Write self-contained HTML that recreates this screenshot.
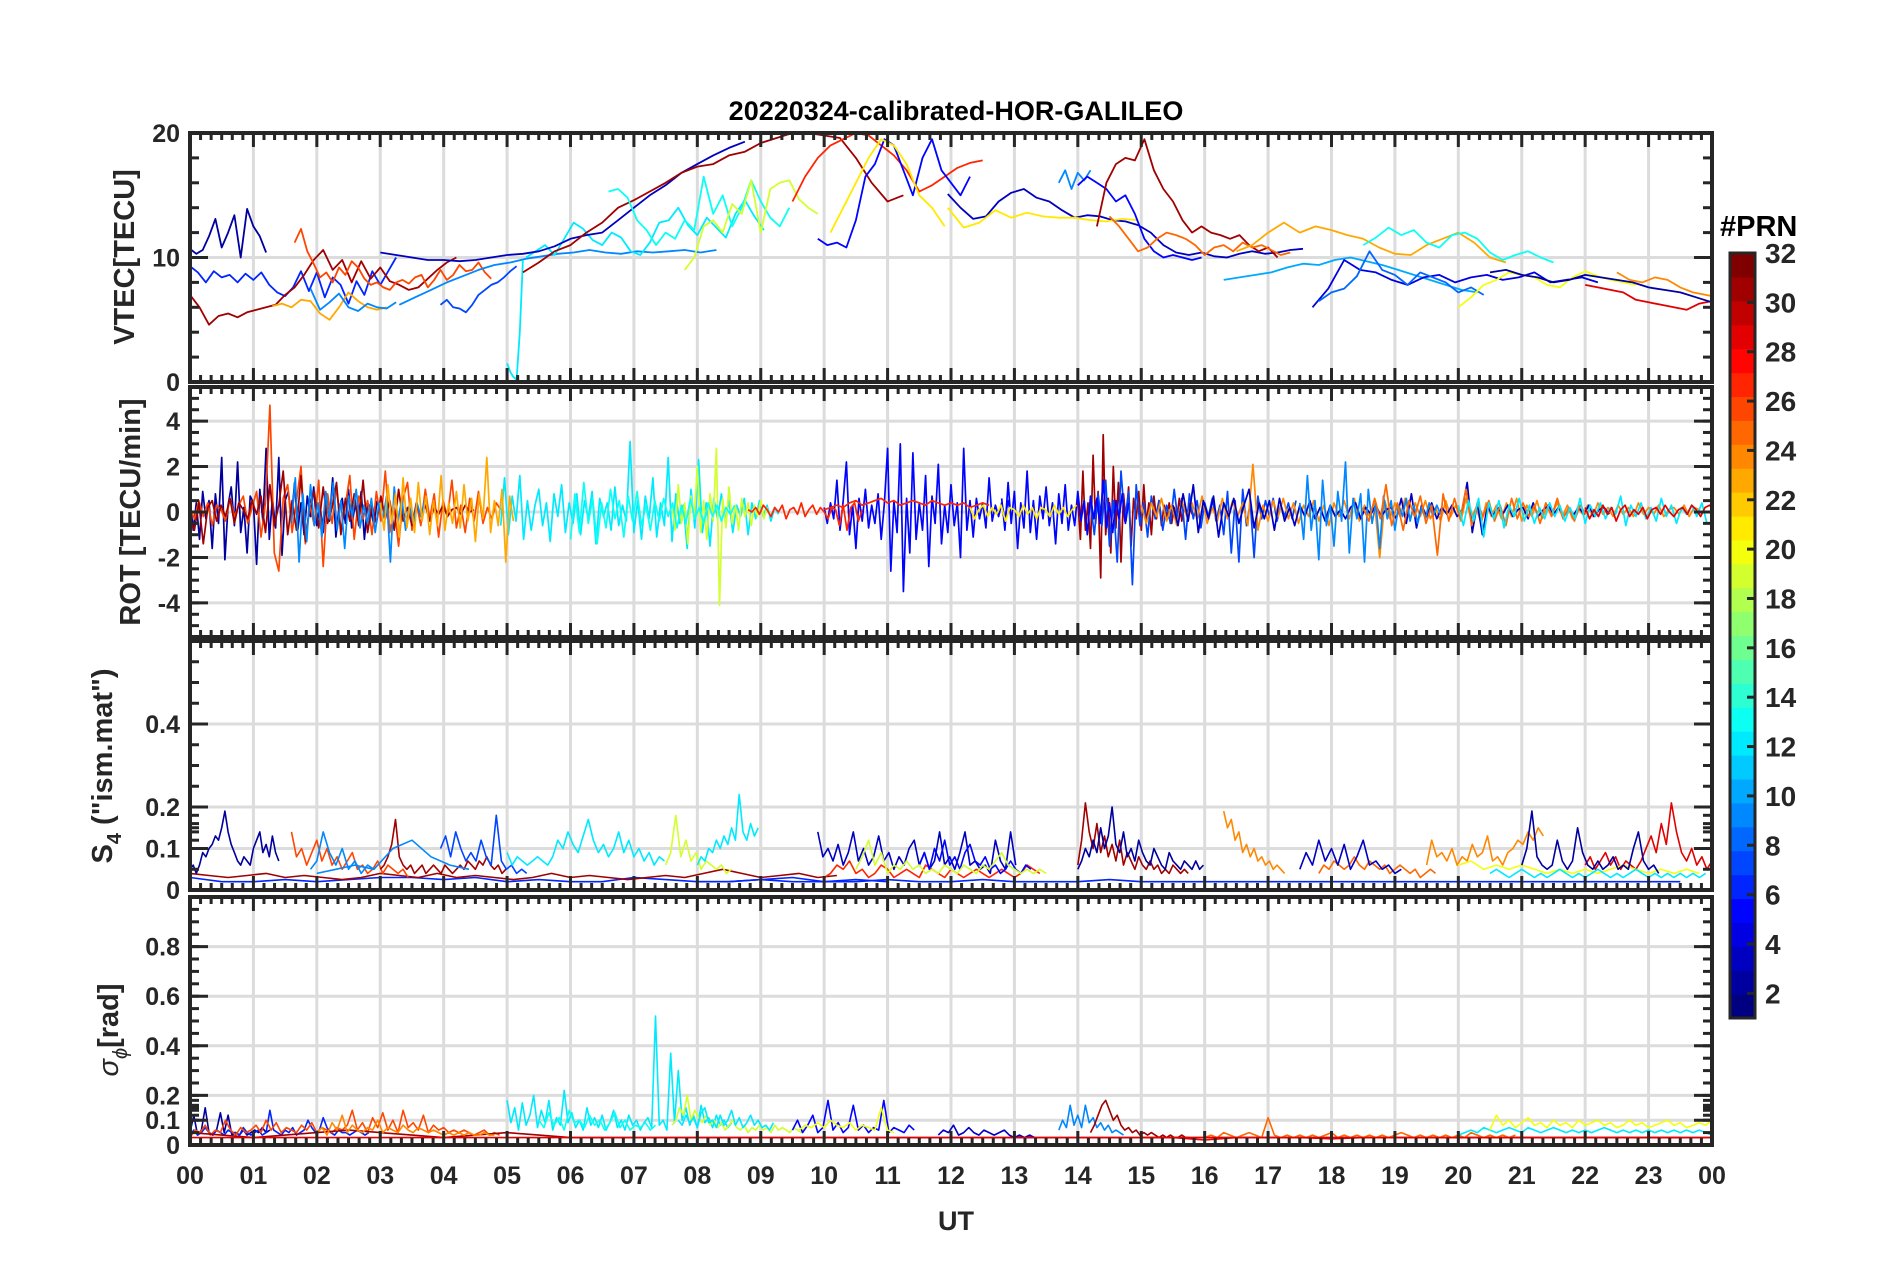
<!DOCTYPE html>
<html><head><meta charset="utf-8"><title>20220324-calibrated-HOR-GALILEO</title>
<style>
html,body{margin:0;padding:0;background:#fff;}
svg{display:block;}
text{font-family:"Liberation Sans",Arial,sans-serif;font-weight:bold;fill:#262626;}
</style></head>
<body>
<svg id="fig" width="1902" height="1272" viewBox="0 0 1902 1272" xmlns="http://www.w3.org/2000/svg">
<text x="956" y="120" text-anchor="middle" font-size="27" style="fill:#000">20220324-calibrated-HOR-GALILEO</text>
<text x="956" y="1230" text-anchor="middle" font-size="27">UT</text>
<text transform="translate(134,257) rotate(-90)" text-anchor="middle" font-size="29">VTEC[TECU]</text>
<text transform="translate(140,512) rotate(-90)" text-anchor="middle" font-size="29">ROT [TECU/min]</text>
<text transform="translate(112,766) rotate(-90)" text-anchor="middle" font-size="29">S<tspan font-size="20" dy="9">4</tspan><tspan dy="-9"> ("ism.mat")</tspan></text>
<text transform="translate(118,1030) rotate(-90)" text-anchor="middle" font-size="29"><tspan font-style="italic" font-weight="normal">σ</tspan><tspan font-size="20" dy="9" font-style="italic" font-weight="normal">ϕ</tspan><tspan dy="-9">[rad]</tspan></text>
<text x="1720" y="236" font-size="29" style="fill:#000">#PRN</text>
<g id="panels"></g>
<g id="cbar"></g>
</svg>
<script>
// ---------------- data ----------------
const hourLabels=["00","01","02","03","04","05","06","07","08","09","10","11","12","13","14","15","16","17","18","19","20","21","22","23","00"];
const vtecTicks=[0,10,20];
const rotTicks=[-4,-2,0,2,4];
const s4Ticks=[0,0.1,0.2,0.4];
const sigTicks=[0,0.1,0.2,0.4,0.6,0.8];
const cbarTicks=[2,4,6,8,10,12,14,16,18,20,22,24,26,28,30,32];

// VTEC segments: prn, start hour, step hour, values
const vtecPrn=[2,6,31,23,26,9,9,7,12,12,3,31,13,19,27,5,21,3,21,9,5,31,25,23,13,10,4,8,20,29,2,24];
const vtecStart=[0,0,0,1.3,1.65,1.9,3.3,3.95,5.0,5.3,3.0,5.25,6.6,7.8,9.5,9.9,10.1,11.95,11.95,13.7,14.0,14.3,14.5,16.5,18.5,16.3,17.7,17.8,20.0,22.0,20.5,22.5];
const vtecStep=[0.1,0.125,0.15,0.15,0.1,0.15,0.25,0.1,0.05,0.15,0.25,0.25,0.15,0.15,0.2,0.15,0.2,0.2,0.25,0.1,0.15,0.15,0.15,0.25,0.2,0.25,0.25,0.2,0.2,0.2,0.25,0.2];
const vtecValues=[
[10.7,10.3,10.6,11.7,13.1,10.8,12.0,13.4,10.0,13.9,12.5,11.7,10.4],
[9.3,8.8,8.0,8.9,8.4,8.6,8.0,8.7,8.2,8.8,7.8,7.2,6.9,7.6,8.9,7.3,8.8,6.8,8.4,7.8,6.3,8.1,7.0,8.9,7.8,8.9,10.0],
[7.0,6.0,4.6,5.3,5.5,5.2,5.6,5.8,6.0,6.2,7.0,7.6,8.6,9.8,10.6,9.0,9.8,8.0,9.7,8.3,9.2,8.1,7.8,7.4,7.6,8.3,9.0,9.6,10.0],
[6.1,6.3,6.0,6.6,6.5,5.5,5.0,6.0,7.2,6.5,6.0,5.8,6.0],
[11.2,12.3,10.5,9.5,8.4,8.8,8.0,9.2,8.6,9.7,9.2,8.3,7.8,8.0,7.6,7.4,8.0,8.2,7.9,8.4,8.6,7.6,8.2,9.0,8.2,8.6,9.4,8.9,9.0,9.6,8.8,8.3],
[7.5,5.8,6.4,7.1,6.0,5.7,6.3,6.0,5.9,6.4],
[6.2,6.8,7.4,8.0,8.5,9.0,9.4,9.6,9.9,10.1,10.3,10.4,10.6,10.4,10.3,10.5,10.4,10.5,10.6,10.4,10.6],
[6.2,6.6,6.0,5.9,5.6,6.2,7.0,7.4,7.8,8.0,8.4,8.9,9.3],
[1.5,0.8,0.4,0.2,4.0,9.8],
[10.0,10.5,11.0,10.2,11.5,12.8,12.3,11.4,11.0,12.0,11.6,10.5,10.2,11.2,12.8,13.0,14.0,12.6,11.8,13.2,12.4,11.6,13.5,14.6,13.3,12.2],
[10.4,10.2,10.0,9.8,9.8,9.7,9.8,10.0,10.2,10.3,10.5,10.9,11.5,11.8,12.0,13.0,14.0,15.0,15.8,16.8,17.5,18.2,18.8,19.3],
[8.8,9.6,10.5,11.0,12.0,12.8,14.0,14.6,15.3,16.0,16.8,17.3,17.5,18.2,18.5,19.2,19.6,20.0,20.0,19.8,19.6,18.0,16.0,14.5,15.0],
[15.3,15.5,14.8,13.0,12.2,11.0,12.0,11.5,13.0,12.2,16.5,13.5,15.0,12.5,14.0,16.2,14.5,13.2,12.5,14.0],
[9.0,10.0,12.5,13.0,12.0,14.3,13.5,16.2,12.0,15.5,16.0,16.2,14.7,14.0,13.5],
[14.5,16.5,18.0,19.0,19.5,20.0,19.8,19.0,18.2,17.0,15.3,15.8,16.5,17.2,17.6,17.8],
[11.5,11.0,11.2,10.8,13.0,16.5,17.5,19.5,19.0,17.0,15.0,18.0,19.5,17.0,16.0,15.0,16.5],
[12.0,14.0,16.0,18.0,19.5,19.0,17.5,15.0,14.0,12.5],
[15.1,14.0,13.1,13.3,14.5,15.2,15.5,14.8,14.5,13.8,13.2,13.4,13.3,13.0,12.9,12.6,12.0,11.0,10.4,10.2,10.4,10.1,10.0,10.3,10.5,10.3,10.4,10.6,10.7],
[14.0,12.4,12.8,13.8,13.2,13.6,13.3,13.2,13.2,13.0,12.9,13.1,13.0],
[16.0,17.0,15.5,16.8,16.2,17.0],
[15.8,16.5,16.0,15.5,14.5,15.0,13.5,11.5,10.5,10.0,10.2,10.0,9.8,10.0],
[12.5,16.0,17.5,18.0,17.8,19.5,17.0,15.5,14.5,13.0,12.0,12.5,12.0,11.8,11.5,11.8,11.0,10.5,10.8,10.0],
[13.3,12.5,11.5,10.5,10.8,11.5,12.0,11.8,11.5,11.0,10.2,10.8,11.0,10.5,11.2,10.8,11.0,10.6,10.2,10.4],
[10.5,11.0,12.0,12.8,12.0,12.5,12.2,11.8,11.5,10.8,10.3,10.2,11.0,11.5,12.0,11.2,10.0,9.6],
[11.0,11.6,12.4,11.8,12.2,11.2,10.8,11.8,12.0,11.5,10.4,9.8,10.2,10.5,10.0,9.6],
[8.2,8.4,8.6,8.8,9.2,9.5,9.4,9.8,10.0,9.7,9.4,9.0,8.6,8.2,7.8,7.4,7.2],
[6.0,7.5,9.8,9.0,8.8,8.2,7.8,8.4,8.6,8.0,8.4,8.6,8.2,8.4,8.8,8.0,8.2,8.4,8.0],
[6.5,7.2,7.5,8.5,10.5,9.0,8.6,7.8,8.8,8.4,8.0,7.2,7.6,7.0],
[6.0,6.8,7.8,8.2,8.8,8.6,8.4,7.8,7.6,8.4,8.9,8.5,8.2,8.0,7.8],
[7.8,7.6,7.4,7.2,6.6,6.4,6.2,6.0,5.8,6.3,6.5,6.9,7.5],
[8.8,9.0,8.6,8.4,8.0,8.2,8.6,8.4,8.2,8.0,7.6,7.4,7.2,6.8,6.4,6.0,5.6],
[8.8,8.2,8.0,8.4,8.2,7.6,7.2,7.0,6.8,6.6,5.5,4.8]
];

// ROT segments
const rotPrn=[2,26,31,9,12,19,13,5,27,31,7,24,3,9,25,12,29,27,5,21,23];
const rotStart=[0,0,0,1.6,4.9,7.6,6.0,10.0,10.0,14.0,14.2,15.0,15.5,17.5,18.5,20.0,22.0,8.8,12.8,12.3,3.0];
const rotStep=[0.05,0.07,0.07,0.06,0.06,0.05,0.07,0.05,0.1,0.04,0.06,0.08,0.08,0.06,0.09,0.08,0.07,0.06,0.05,0.07,0.06];
const rotValues=[
[0.6,-0.8,0.4,-1.2,0.9,-0.3,0.5,-1.6,0.8,-0.5,2.4,-2.1,0.3,1.1,-0.6,2.2,-0.9,0.2,-1.8,0.7,0.4,-2.3,1.0,-0.4,2.8,-1.2,0.6,-0.7,2.4,-1.9,0.5,0.9,-0.3,1.3,-0.8,0.4,-1.0,0.7,-0.2,1.1,-0.6,0.3,-0.9,0.8,-0.4,1.5,-1.1,0.2,0.6,-0.5,1.0,-0.7,0.3,-0.2,0.9,-1.2,0.4,0.1,-0.6,0.5],
[0.2,-0.3,0.5,-0.2,0.4,-0.6,0.3,0.1,-0.4,0.6,-0.2,0.3,0.7,-0.5,0.2,0.9,-1.1,0.4,4.7,-1.8,-2.6,0.6,1.2,-0.9,0.5,2.0,-1.4,0.3,-0.6,1.4,-2.4,0.8,-0.5,1.1,-0.8,0.3,1.6,-1.2,0.7,-0.3,0.5,-1.0,0.9,-0.4,1.8,-0.9,0.2,-1.5,0.6,1.3,-0.8,0.4,-0.6,1.0,-0.3,0.8,-1.1,0.5,-0.2,1.4,-0.7,0.3,-0.9,0.6,-0.4,0.9,-0.5,0.2,-0.3,0.4,0.1],
[-0.3,-0.8,0.4,-1.4,0.2,0.5,-0.4,0.3,-0.2,0.6,-0.5,0.4,0.1,-0.3,0.5,-0.1,0.7,-0.9,1.2,-0.6,0.3,1.8,-1.0,0.5,-0.8,1.6,-1.3,0.4,0.9,-0.7,1.1,-0.5,0.2,1.3,-1.0,0.6,-0.4,0.8,-0.6,1.4,-0.9,0.3,-0.5,0.7,-0.3,0.5,-0.8,1.0,-0.4,0.2,-0.6,0.4,-0.2,0.3,-0.4,0.2,-0.1,0.3,-0.2,0.1,0.2,-0.1,0.3,0.0,0.1],
[-0.5,1.5,-2.2,0.8,-1.3,1.2,-0.6,0.4,-1.1,0.9,-0.3,1.3,-0.8,0.5,-1.6,0.7,-0.2,1.0,-0.7,0.3,-0.5,0.6,-0.9,0.4,-0.3,0.7,-2.2,1.1,-0.4,0.6,-0.8,0.3,-0.5,0.4,-0.2,0.5],
[-0.6,1.5,-1.0,0.7,-0.4,1.6,-1.2,0.5,-0.8,0.3,1.0,-0.6,0.4,-1.3,0.8,-0.2,1.2,-0.9,0.4,-0.5,0.8,-1.0,0.5,-0.3,0.9,-1.4,0.6,-0.2,0.4,-0.8,1.1,-0.6,0.3,-0.4,3.1,-0.9,0.5,-1.2,0.7,-0.3,1.5,-1.1,0.4,-0.6,2.4,-1.3,0.8,-0.5,0.3,-1.6,1.0,-0.7,2.3,-0.9,0.4,-1.5,0.6,-0.3,0.8,-0.4,0.5,-0.9,0.3,-0.2,0.6,-1.0,0.4,-0.3,0.5,-0.2,0.3,-0.4,0.2,-0.1],
[0.3,-0.8,1.2,-0.5,0.4,-1.4,0.7,-0.3,2.0,-0.9,0.5,-1.2,0.8,-0.4,2.8,-4.1,0.6,-0.7,1.1,-0.5,0.3,-0.8,0.6,-0.2,0.4,-0.6,0.3,-0.2,0.5,-0.3,0.2],
[-1.2,0.8,-0.9,1.3,-0.5,0.6,-1.4,0.4,-0.7,1.0,-0.3,0.5,-1.1,0.7,-0.4,0.9,-0.6,0.3,-0.8,0.5,-0.4,0.6,-0.2,0.4,-0.7,0.3,-0.5,0.6,-0.3,0.2,-0.5,0.4,-0.2,0.3,-0.4,0.2,-0.1,0.3],
[0.2,-0.5,0.4,-0.3,1.4,-0.8,0.5,2.2,-1.0,0.3,-1.6,0.6,-0.4,1.0,-0.7,0.3,-0.5,0.8,-1.2,0.4,2.8,-2.6,0.5,-0.9,3.0,-3.5,0.6,-1.8,2.6,-1.2,0.4,-0.8,1.6,-2.4,0.7,-0.5,2.1,-1.4,0.3,-0.9,1.2,-0.6,0.4,-2.0,2.8,-0.8,0.5,-1.1,0.6,-0.3,0.4,-0.7,1.5,-0.4,0.3,-0.2,0.4,-0.3,0.5,-0.2],
[0.1,0.2,0.3,0.2,0.4,0.5,0.3,0.4,0.5,0.6,0.4,0.5,0.3,0.4,0.5,0.4,0.3,0.5,0.4,0.3,0.4,0.3,0.4,0.2,0.3,0.4,0.3],
[0.5,-1.2,1.8,-0.8,0.4,-1.6,2.5,-0.5,0.9,-2.9,3.4,-1.0,0.6,-1.8,2.0,-0.7,1.3,-2.2,0.8,-0.4,1.1,-1.5,0.6,-0.3,0.9,-0.8,1.2,-0.5,0.4,-1.0,0.7,-0.3,0.5,-0.6,0.3,-0.2,0.4,-0.5,0.2,-0.3,0.6,-0.4,0.3,-0.2,0.4,-0.1],
[0.4,-1.0,0.8,-0.6,1.4,-1.5,0.5,-2.2,1.8,-0.4,0.9,-3.2,1.2,-0.6,0.4,-1.1,0.7,-0.3,0.5,-0.8,0.3,-0.5,1.0,-0.4,0.6,-1.2,0.8,-0.3,0.5,-0.7,0.4,-0.2,0.6,-0.4,0.3,-1.0,0.9,-1.8,0.5,-2.2,1.0,-0.6,0.4,-2.0,0.7,-0.3,0.5,-0.2,0.6,-0.4,0.3,-0.2,0.4,-0.3,0.5],
[0.3,-0.5,0.4,-0.2,0.6,-0.4,0.3,-0.6,0.5,-0.2,0.4,-0.3,0.7,-0.5,0.2,-0.4,0.6,-0.3,0.5,-0.2,0.4,-0.6,2.1,-0.8,0.3,-0.4,0.5,-0.2,0.6,-0.3,0.4,-0.5,0.3,-0.2,0.5,-0.4,0.3,-0.6,0.4,-0.2,0.5,-0.3,0.6,-0.4,0.3,-0.2,0.4,-2.0,0.5,-0.3,0.4,-0.2,0.6,-0.3,0.4,-0.2,0.5,-0.3,0.2,-0.4,0.5,-0.2,0.3,-0.4,0.6,-0.3,0.2,-0.5,0.4,-0.2,0.3,-0.3,0.4,-0.2,0.6,-0.4,0.3,-0.2,0.5,-0.3,0.2,-0.1,0.4,-0.2,0.3,-0.3,0.2,-0.1,0.3,-0.2,0.4,-0.1,0.2,-0.2,0.3,-0.1,0.2,-0.2,0.4,-0.1,0.2,-0.1,0.3,-0.2,0.1,0.2,-0.1,0.3,-0.2,0.2,0.1],
[0.3,-0.6,0.8,-0.4,1.2,-0.9,0.5,-0.3,0.7,-1.1,0.4,-0.2,0.6,-0.5,0.3,1.0,-0.7,0.4,-0.3,0.5,-0.8,0.6,-0.4,0.2,-0.6,0.3,-0.2,0.5,-0.3,0.2,-0.4,0.3,-0.2,0.1,-0.3,0.2,0.4,-0.3,0.2,-0.1,0.3,-0.2,0.1,0.2,-0.3,0.6,-0.5,0.8,-0.7,0.3,-0.2,0.4,-0.3,0.2,-0.1,0.3,-0.2,0.1,1.3,-0.9,0.4,-1.0,0.3,-0.2,0.2,-0.1,0.3,-0.2,0.1,0.2,-0.3,0.4,-0.2,0.1,0.3,-0.1,0.2,-0.2,0.1,-0.1,0.2,-0.1,0.3,-0.2,0.1,0.2,-0.1],
[0.4,-1.2,1.6,-0.8,0.5,-2.1,1.4,-0.6,0.3,-1.5,0.9,-0.4,2.2,-1.8,0.6,-0.3,0.8,-2.2,1.0,-0.5,0.4,-1.6,0.7,-0.3,0.5,-0.8,0.3,-0.2,0.6,-0.4,0.3,-0.5,0.2,-0.3,0.4,-0.2,0.3,-0.1],
[0.2,-0.4,0.6,-0.3,1.2,-0.6,0.4,-0.8,0.5,-0.2,0.7,-0.5,0.3,-1.9,0.8,-0.4,0.6,-0.3,1.0,-0.6,0.4,-0.2,0.5,-0.4,0.3,-0.6,0.6,-0.3,0.4,-0.2,0.3,-0.5,0.4,-0.2,0.6,-0.3,0.2,-0.4,0.3,-0.1],
[0.3,-0.6,0.5,-0.4,0.6,-1.1,0.4,-0.3,0.5,-0.7,0.3,-0.2,0.6,-0.4,0.3,-0.5,0.2,-0.3,0.4,-0.2,0.3,-0.4,0.2,-0.3,0.6,-0.5,0.3,-0.2,0.4,-0.3,0.2,-0.1,0.7,-0.6,0.3,-0.2,0.4,-0.3,0.2,-0.4,0.6,-0.2,0.3,-0.5,0.2,-0.1,0.3,-0.2,0.4,-0.5],
[0.2,-0.3,0.1,-0.2,0.3,-0.1,0.2,-0.4,0.1,0.3,-0.2,0.1,-0.1,0.2,-0.3,0.1,0.2,-0.1,0.3,0.0,-0.2,0.1,0.2,-0.1,0.3,0.1,-0.2,0.2,0.3,0.1,0.2,0.4,0.3,0.2,0.5,0.3,0.4,0.2,0.6,0.3,0.5,0.4,0.3,0.5,0.4,0.6,0.3,0.5,0.4,0.5],
[0.1,0.0,0.2,-0.1,0.3,0.1,-0.2,0.2,0.0,0.3,-0.3,0.1,0.2,-0.1,0.4,-0.2,0.1,0.3,-0.1,0.2,0.0,-0.3,0.2,0.1,-0.6,0.3,-0.8,0.2,0.4,-0.4,0.1],
[0.6,-0.8,1.3,-0.5,0.9,-1.6,0.4,-0.7,1.8,-0.9,0.5,-1.2,0.7,-0.3,1.1,-0.6,0.4,-1.4,0.8,-0.5,1.2,-0.8,0.3,-0.6,0.9,-0.4,0.5,-1.0,0.7,-0.3,0.6,-0.5,1.4,-0.7,0.4,-0.9,0.5,-0.3,0.8,-0.5,0.4],
[0.2,-0.3,0.1,0.3,-0.2,0.2,-0.1,0.3,-0.4,0.2,0.1,-0.2,0.3,-0.1,0.2,-0.3,0.2,0.1,-0.2,0.3,-0.1,0.2,-0.2,0.1,0.3],
[0.4,-0.8,1.2,-0.5,0.8,-1.1,1.5,-0.7,0.6,-0.9,1.3,-0.4,0.7,-1.0,0.5,-0.6,1.6,-0.8,0.4,-0.5,0.9,-0.7,1.2,-0.4,0.6,-1.3,0.8,-0.3,2.4,-0.9,0.5,-0.6,1.0,-2.2,0.7,-0.4]
];

// S4 segments
const s4Prn=[6,31,2,26,9,31,9,7,12,19,12,3,27,5,19,31,2,24,25,3,29,24,20,2,6,12];
const s4Start=[0,0,0,1.6,1.9,3.0,2.0,3.95,5.0,7.5,8.0,9.9,10.0,11.5,10.5,14.0,14.0,16.3,17.8,17.5,22.0,19.5,20.0,21.0,8.0,20.5];
const s4Step=[0.5,0.3,0.05,0.08,0.1,0.06,0.3,0.08,0.08,0.08,0.06,0.08,0.1,0.08,0.1,0.06,0.06,0.06,0.08,0.1,0.08,0.08,0.2,0.08,0.5,0.1];
const s4Values=[
[0.03,0.02,0.02,0.025,0.02,0.025,0.03,0.03,0.025,0.03,0.02,0.025,0.02,0.02,0.03,0.025,0.02,0.02,0.025,0.03,0.02,0.025,0.02],
[0.04,0.035,0.03,0.035,0.04,0.03,0.035,0.03,0.025,0.03,0.04,0.035,0.03,0.04,0.03,0.035,0.03,0.025,0.03,0.04,0.03,0.035,0.03,0.025,0.03,0.035,0.03,0.04,0.05,0.04,0.03,0.035,0.04,0.03,0.035],
[0.05,0.06,0.04,0.06,0.09,0.08,0.1,0.11,0.13,0.12,0.15,0.19,0.14,0.11,0.09,0.07,0.06,0.08,0.07,0.06,0.1,0.12,0.14,0.09,0.11,0.08,0.13,0.09,0.07],
[0.14,0.08,0.1,0.06,0.09,0.12,0.07,0.1,0.06,0.08,0.05,0.07,0.09,0.05,0.06,0.04,0.05,0.07,0.04,0.06,0.05,0.04,0.05,0.03],
[0.05,0.07,0.14,0.09,0.06,0.1,0.05,0.07,0.04,0.06,0.05],
[0.05,0.06,0.08,0.11,0.17,0.08,0.06,0.05,0.06,0.04,0.05,0.06,0.04,0.05,0.06,0.05,0.04,0.06,0.05,0.04,0.05,0.06,0.05,0.07,0.06,0.05,0.07,0.06,0.08,0.06,0.05,0.06,0.04,0.05],
[0.04,0.05,0.06,0.05,0.1,0.12,0.08,0.06,0.05],
[0.1,0.13,0.08,0.14,0.1,0.07,0.09,0.07,0.12,0.08,0.06,0.18,0.07,0.05,0.06,0.04,0.05,0.04],
[0.09,0.06,0.08,0.07,0.06,0.07,0.08,0.07,0.06,0.08,0.12,0.1,0.14,0.11,0.09,0.13,0.17,0.12,0.09,0.11,0.08,0.1,0.14,0.09,0.12,0.08,0.1,0.07,0.09,0.06,0.08,0.07],
[0.06,0.09,0.18,0.08,0.12,0.07,0.09,0.05,0.07,0.06,0.05,0.06,0.04,0.05],
[0.06,0.08,0.07,0.1,0.09,0.12,0.1,0.13,0.11,0.15,0.12,0.23,0.14,0.12,0.16,0.13,0.15],
[0.14,0.08,0.1,0.07,0.11,0.06,0.09,0.14,0.07,0.1,0.06,0.08,0.13,0.07,0.09,0.05,0.08,0.06,0.1,0.12,0.06,0.09,0.05,0.07,0.14,0.06,0.08,0.05,0.09,0.14,0.06,0.07,0.05,0.06,0.04,0.12,0.07,0.05,0.14,0.06],
[0.03,0.04,0.06,0.05,0.07,0.04,0.05,0.03,0.04,0.06,0.05,0.03,0.04,0.05,0.04,0.03,0.06,0.05,0.04,0.03,0.05,0.04,0.03,0.04,0.05,0.04,0.03,0.04,0.05,0.04,0.03,0.04,0.06,0.05,0.04],
[0.06,0.09,0.05,0.1,0.07,0.12,0.06,0.08,0.05,0.09,0.11,0.07,0.06,0.08,0.05,0.06,0.04,0.05,0.07,0.05,0.04,0.06,0.05],
[0.05,0.08,0.12,0.06,0.09,0.04,0.06,0.05,0.07,0.05,0.06,0.04,0.05,0.04,0.06,0.05,0.04,0.06,0.05,0.04,0.06,0.05,0.07,0.09,0.06,0.05,0.04,0.05,0.04,0.05,0.04],
[0.06,0.12,0.21,0.14,0.1,0.16,0.09,0.13,0.08,0.11,0.07,0.12,0.06,0.09,0.07,0.05,0.08,0.06,0.05,0.07,0.05,0.06,0.04,0.05,0.04,0.06,0.05,0.04,0.05,0.04],
[0.05,0.07,0.1,0.08,0.12,0.09,0.15,0.1,0.13,0.2,0.11,0.09,0.14,0.08,0.1,0.07,0.12,0.09,0.07,0.06,0.1,0.08,0.06,0.05,0.09,0.07,0.06,0.05,0.07,0.06,0.05,0.07,0.05,0.06],
[0.19,0.15,0.17,0.12,0.14,0.09,0.11,0.08,0.1,0.07,0.08,0.06,0.07,0.05,0.06,0.05,0.04],
[0.04,0.06,0.05,0.07,0.06,0.05,0.06,0.08,0.06,0.05,0.07,0.06,0.05,0.06,0.04,0.05,0.06,0.05,0.04,0.05,0.03,0.04,0.05,0.04],
[0.05,0.09,0.06,0.12,0.07,0.1,0.06,0.11,0.05,0.08,0.12,0.06,0.07,0.05,0.06,0.04,0.05],
[0.06,0.08,0.05,0.07,0.09,0.06,0.08,0.05,0.07,0.06,0.05,0.07,0.1,0.13,0.09,0.16,0.11,0.21,0.14,0.09,0.07,0.1,0.06,0.08,0.05,0.07,0.06,0.1],
[0.06,0.12,0.08,0.09,0.07,0.1,0.06,0.08,0.07,0.11,0.08,0.09,0.13,0.07,0.08,0.06,0.09,0.1,0.12,0.11,0.14,0.12,0.15,0.13],
[0.06,0.07,0.05,0.06,0.05,0.06,0.05,0.04,0.05,0.04,0.05,0.04,0.05,0.06,0.05,0.04,0.05,0.04,0.05,0.04],
[0.06,0.1,0.19,0.08,0.06,0.05,0.06,0.12,0.07,0.05,0.07,0.15,0.09,0.06,0.05,0.07,0.05,0.06,0.08,0.05,0.06,0.05,0.1,0.14,0.07,0.05,0.06,0.04],
[0.02,0.02,0.025,0.02,0.02,0.02,0.025,0.02,0.02,0.025,0.02,0.02,0.02,0.025,0.02,0.02,0.02,0.02,0.02,0.02,0.02,0.02,0.02,0.02,0.02,0.02,0.02,0.02,0.02,0.02,0.02,0.02],
[0.04,0.05,0.04,0.03,0.04,0.05,0.04,0.03,0.04,0.03,0.04,0.05,0.04,0.03,0.04,0.03,0.04,0.05,0.04,0.03,0.04,0.03,0.04,0.05,0.04,0.03,0.04,0.03,0.04,0.03,0.04,0.03,0.04,0.03,0.04]
];

// Sigma-phi segments
const sigPrn=[2,6,26,31,24,12,13,19,12,5,3,20,9,31,29,25,12,20,29];
const sigStart=[0,0,0,0,2.0,5.0,5.5,7.6,7.7,9.5,11.8,9.6,13.7,14.2,15.0,16.0,20.0,20.5,0];
const sigStep=[0.06,0.06,0.08,0.5,0.08,0.06,0.08,0.06,0.06,0.08,0.08,0.1,0.06,0.06,0.5,0.1,0.1,0.1,1.0];
const sigValues=[
[0.05,0.12,0.04,0.06,0.15,0.05,0.04,0.06,0.13,0.05,0.12,0.04,0.05,0.04,0.06,0.04,0.05,0.06,0.05,0.07,0.05,0.06],
[0.04,0.06,0.04,0.05,0.07,0.05,0.04,0.06,0.05,0.04,0.06,0.05,0.05,0.04,0.07,0.05,0.04,0.05,0.06,0.04,0.05,0.14,0.06,0.05,0.04,0.06,0.05,0.07,0.04,0.05,0.06,0.1,0.07,0.05,0.06,0.11,0.07,0.05,0.04,0.06,0.05,0.05,0.04,0.05,0.06,0.05,0.04,0.05],
[0.03,0.06,0.05,0.08,0.04,0.06,0.05,0.1,0.06,0.04,0.07,0.05,0.06,0.08,0.05,0.1,0.06,0.09,0.05,0.07,0.06,0.05,0.08,0.06,0.09,0.05,0.07,0.06,0.05,0.07,0.06,0.08,0.14,0.06,0.09,0.05,0.11,0.07,0.13,0.06,0.1,0.05,0.14,0.07,0.09,0.06,0.12,0.05,0.08,0.06,0.07,0.05,0.06,0.05,0.06,0.05,0.04,0.05,0.06,0.04,0.05,0.04],
[0.05,0.04,0.03,0.04,0.05,0.06,0.05,0.04,0.03,0.04,0.05,0.04,0.03,0.03,0.03,0.03,0.03,0.03,0.03,0.03,0.03,0.03,0.03,0.03,0.03,0.03,0.03,0.03,0.03,0.03,0.03,0.03,0.03,0.03,0.03,0.03,0.03,0.03,0.03,0.03,0.03,0.03,0.03,0.03,0.03,0.03,0.03,0.03,0.03],
[0.05,0.07,0.04,0.09,0.06,0.12,0.05,0.08,0.06,0.05,0.07,0.06,0.1,0.05,0.07,0.06,0.05,0.08,0.06,0.05,0.07,0.06,0.05,0.06,0.05,0.04,0.05,0.04,0.05,0.04,0.05,0.04,0.04,0.05,0.04,0.04],
[0.18,0.09,0.15,0.06,0.17,0.08,0.12,0.2,0.07,0.14,0.09,0.18,0.06,0.11,0.08,0.22,0.09,0.13,0.07,0.1,0.06,0.15,0.08,0.11,0.07,0.12,0.06,0.09,0.14,0.07,0.1,0.06,0.12,0.08,0.1,0.06,0.09,0.11,0.07,0.52,0.08,0.1,0.06,0.37,0.09,0.3,0.1,0.15,0.08,0.12,0.07,0.16,0.09,0.11,0.07,0.12,0.08,0.1,0.07,0.09],
[0.1,0.07,0.13,0.08,0.11,0.06,0.14,0.09,0.1,0.07,0.12,0.08,0.1,0.06,0.09,0.13,0.07,0.1,0.06,0.08,0.07,0.09,0.06,0.08],
[0.08,0.1,0.15,0.12,0.2,0.1,0.14,0.11,0.09,0.12,0.08,0.1,0.07,0.09,0.06,0.08,0.1,0.07,0.06,0.08,0.05,0.07,0.06,0.08,0.06,0.07,0.05,0.08,0.06,0.07,0.06,0.05,0.07,0.06,0.05,0.07],
[0.1,0.08,0.12,0.09,0.11,0.07,0.13,0.15,0.09,0.1,0.07,0.12,0.08,0.1,0.14,0.08,0.11,0.07,0.09,0.12,0.08,0.1,0.07,0.08,0.06,0.09],
[0.06,0.1,0.05,0.08,0.12,0.05,0.07,0.18,0.06,0.09,0.05,0.07,0.16,0.06,0.08,0.05,0.07,0.06,0.18,0.05,0.07,0.06,0.05,0.08,0.06],
[0.04,0.06,0.05,0.08,0.04,0.05,0.07,0.05,0.04,0.06,0.05,0.04,0.05,0.06,0.04,0.03,0.04,0.03,0.04,0.03],
[0.06,0.08,0.07,0.09,0.07,0.1,0.08,0.07,0.09,0.06,0.08,0.07,0.06,0.15,0.06,0.05],
[0.06,0.1,0.07,0.16,0.08,0.12,0.07,0.16,0.09,0.11,0.07,0.09,0.06,0.08,0.05,0.06,0.05,0.04],
[0.05,0.08,0.12,0.16,0.18,0.14,0.1,0.12,0.08,0.06,0.07,0.05,0.06,0.04,0.05,0.04,0.05,0.04,0.03,0.04,0.03,0.04,0.03,0.03,0.04,0.03,0.03],
[0.03,0.03,0.02,0.03,0.03,0.03,0.025,0.03,0.03,0.03,0.03,0.03,0.03,0.03,0.03,0.03,0.03,0.03],
[0.03,0.04,0.03,0.05,0.04,0.03,0.04,0.05,0.04,0.03,0.11,0.04,0.03,0.04,0.03,0.04,0.03,0.04,0.03,0.04,0.05,0.03,0.04,0.03,0.04,0.03,0.04,0.03,0.04,0.03,0.04,0.05,0.04,0.03,0.04,0.03,0.04,0.03,0.04,0.03,0.04,0.03,0.05,0.04,0.03,0.04,0.03,0.04,0.03,0.04],
[0.04,0.05,0.06,0.05,0.07,0.06,0.05,0.06,0.07,0.06,0.05,0.07,0.06,0.05,0.06,0.07,0.06,0.05,0.06,0.05,0.06,0.05,0.06,0.07,0.06,0.05,0.06,0.05,0.06,0.05,0.06,0.05,0.06,0.05,0.06,0.05,0.06,0.05,0.06,0.05,0.04],
[0.06,0.12,0.08,0.1,0.07,0.09,0.11,0.08,0.09,0.07,0.1,0.08,0.09,0.07,0.1,0.08,0.09,0.1,0.08,0.09,0.07,0.08,0.1,0.08,0.09,0.07,0.08,0.09,0.1,0.08,0.09,0.07,0.08,0.09,0.08,0.1],
[0.03,0.03,0.03,0.03,0.03,0.03,0.03,0.03,0.03,0.03,0.03,0.03,0.03,0.03,0.03,0.03,0.03,0.03,0.03,0.03,0.03,0.03,0.03,0.03,0.03]
];

// ---------------- layout ----------------
const NS="http://www.w3.org/2000/svg";
const X0=190,X1=1712;
const panels=[
 {name:"vtec",y0:133,y1:382,min:0,max:20,ticks:vtecTicks,minor:2,dense:[],prn:vtecPrn,st:vtecStart,sp:vtecStep,vals:vtecValues,lw:1.8},
 {name:"rot",y0:387,y1:637,min:-5.5,max:5.5,ticks:rotTicks,minor:0.5,dense:[],prn:rotPrn,st:rotStart,sp:rotStep,vals:rotValues,lw:1.7},
 {name:"s4",y0:641,y1:890,min:0,max:0.6,ticks:s4Ticks,minor:0.05,dense:[0.12,0.14,0.16,0.18],prn:s4Prn,st:s4Start,sp:s4Step,vals:s4Values,lw:1.6},
 {name:"sigma",y0:897,y1:1145,min:0,max:1.0,ticks:sigTicks,minor:0.05,dense:[0.12,0.14,0.16,0.18],prn:sigPrn,st:sigStart,sp:sigStep,vals:sigValues,lw:1.6}
];
function xs(h){return X0+(X1-X0)*h/24;}
function jet(p){
  const v=(p-1)/31;
  const c=t=>Math.round(255*Math.max(0,Math.min(1,1.5-Math.abs(t))));
  return `rgb(${c(4*v-3)},${c(4*v-2)},${c(4*v-1)})`;
}
function el(tag,attrs,parent){
  const e=document.createElementNS(NS,tag);
  for(const k in attrs) e.setAttribute(k,attrs[k]);
  parent.appendChild(e);return e;
}
const G=document.getElementById("panels");
const defs=el("defs",{},G);
panels.forEach((P,pi)=>{
  const ys=v=>P.y1-(P.y1-P.y0)*(v-P.min)/(P.max-P.min);
  const g=el("g",{},G);
  
  
  const cp=el("clipPath",{id:"clip"+pi},defs);
  el("rect",{x:X0,y:P.y0,width:X1-X0,height:P.y1-P.y0},cp);
  for(let h=1;h<24;h++){
    const l=el("line",{x1:xs(h),x2:xs(h),y1:P.y0,y2:P.y1,stroke:"#dcdcdc","stroke-width":3},g);
    
    
  }
  P.ticks.forEach(t=>{
    if(t===P.min||t===P.max) return;
    const l=el("line",{x1:X0,x2:X1,y1:ys(t),y2:ys(t),stroke:"#dcdcdc","stroke-width":3},g);
    
    
  });
  const sg=el("g",{"clip-path":`url(#clip${pi})`},g);
  P.vals.forEach((vals,si)=>{
    let d="";
    vals.forEach((v,i)=>{const h=P.st[si]+i*P.sp[si];d+=(i?"L":"M")+xs(h).toFixed(1)+","+ys(v).toFixed(1);});
    const path=el("path",{d:d,fill:"none",stroke:jet(P.prn[si]),"stroke-width":P.lw,"stroke-linejoin":"round"},sg);
    
    
  });
  const tk=el("g",{stroke:"#262626","stroke-width":3},g);
  for(let m=0;m<=24*6;m++){
    const x=xs(m/6), L=(m%6===0)?14:7;
    el("line",{x1:x,x2:x,y1:P.y0,y2:P.y0+L},tk);
    el("line",{x1:x,x2:x,y1:P.y1,y2:P.y1-L},tk);
  }
  const minorVals=[];
  for(let v=P.min;v<=P.max+1e-9;v+=P.minor) minorVals.push(v);
  P.dense.forEach(v=>minorVals.push(v));
  minorVals.forEach(v=>{
    const y=ys(v);
    el("line",{x1:X0,x2:X0+9,y1:y,y2:y},tk);
    el("line",{x1:X1,x2:X1-9,y1:y,y2:y},tk);
  });
  P.ticks.forEach(t=>{
    const y=ys(t);
    el("line",{x1:X0,x2:X0+18,y1:y,y2:y},tk);
    el("line",{x1:X1,x2:X1-18,y1:y,y2:y},tk);
    const tx=el("text",{x:X0-10,y:y+9,"text-anchor":"end","font-size":25},g);
    tx.textContent=String(t);
    
    
  });
  const box=el("rect",{x:X0,y:P.y0,width:X1-X0,height:P.y1-P.y0,fill:"none",stroke:"#262626","stroke-width":4},g);
  
  
});
hourLabels.forEach((lab,i)=>{
  const t=el("text",{x:xs(i),y:1184,"text-anchor":"middle","font-size":25},G);
  t.textContent=lab;
  
  
});
const C=document.getElementById("cbar");


const CB={x:1730,w:25,y0:253,y1:1018,min:1,max:32};
const cy=v=>CB.y1-(CB.y1-CB.y0)*(v-CB.min)/(CB.max-CB.min);
for(let p=1;p<=32;p++){
  const top=CB.y1-(CB.y1-CB.y0)*p/32, bot=CB.y1-(CB.y1-CB.y0)*(p-1)/32;
  const r=el("rect",{x:CB.x,y:top,width:CB.w,height:bot-top+0.6,fill:jet(p)},C);
  
  
}
cbarTicks.forEach(v=>{
  const y=cy(v);
  el("line",{x1:CB.x+CB.w-8,x2:CB.x+CB.w,y1:y,y2:y,stroke:"#262626","stroke-width":3},C);
  const t=el("text",{x:CB.x+35,y:y+10,"font-size":28},C);
  t.textContent=String(v);
  
  
});
el("rect",{x:CB.x,y:CB.y0,width:CB.w,height:CB.y1-CB.y0,fill:"none",stroke:"#262626","stroke-width":3},C);
</script>
</body></html>
